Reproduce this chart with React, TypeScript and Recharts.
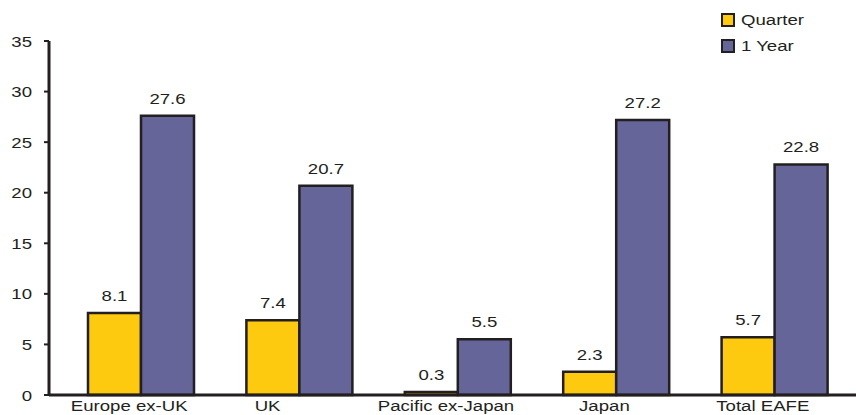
import { Bar, BarChart, LabelList, Legend, XAxis, YAxis } from "recharts";

// regional returns (%), quarter vs trailing year
const regions = ["Europe ex-UK", "UK", "Pacific ex-Japan", "Japan", "Total EAFE"];
const quarter = [8.1, 7.4, 0.3, 2.3, 5.7];
const oneYear = [27.6, 20.7, 5.5, 27.2, 22.8];
const yTicks = [0, 5, 10, 15, 20, 25, 30, 35];

const data = regions.map((region, i) => ({ region, quarter: quarter[i], oneYear: oneYear[i] }));
const seriesOrder = ["quarter", "oneYear"];

const INK = "#231f20";
const YELLOW = "#fdca10";
const PURPLE = "#65659a";
const FONT = "'Liberation Sans', Arial, sans-serif";
const SIZE = 15.5;
const STRETCH = 1.2; // source text is horizontally widened

function WideText({ x, y, anchor, children }: { x: number; y: number; anchor: string; children: any }) {
  return (
    <g transform={`translate(${x},${y}) scale(${STRETCH},1)`}>
      <text x={0} y={0} textAnchor={anchor as any} fontFamily={FONT} fontSize={SIZE} fill={INK}>
        {children}
      </text>
    </g>
  );
}

function YTick(props: any) {
  const { x, y, payload } = props;
  return <WideText x={x} y={y + 5.5} anchor="end">{payload.value}</WideText>;
}

function XTick(props: any) {
  const { x, y, payload } = props;
  // labels sit a little left of their bar pairs in the original
  const dx = payload.value === "UK" ? -32 : -12;
  return <WideText x={x + dx} y={y + 16} anchor="middle">{payload.value}</WideText>;
}

function ValueLabel(props: any) {
  const { x, y, width, value } = props;
  return <WideText x={Number(x) + Number(width) / 2} y={Number(y) - 12} anchor="middle">{Number(value).toFixed(1)}</WideText>;
}

function LegendBox({ payload }: any) {
  const items = [...(payload ?? [])].sort(
    (a: any, b: any) => seriesOrder.indexOf(a.dataKey) - seriesOrder.indexOf(b.dataKey),
  );
  return (
    <div style={{ fontFamily: FONT, fontSize: SIZE, color: INK }}>
      {items.map((p: any) => (
        <div key={p.value} style={{ display: "flex", alignItems: "center", height: 26 }}>
          <span
            style={{
              width: 14, height: 14, boxSizing: "border-box", background: p.color,
              border: `2px solid ${INK}`, marginRight: 6, flex: "none",
            }}
          />
          <span style={{ display: "inline-block", transform: `scaleX(${STRETCH})`, transformOrigin: "left center", whiteSpace: "nowrap" }}>
            {p.value}
          </span>
        </div>
      ))}
    </div>
  );
}

export default function App() {
  return (
    <div style={{ position: "absolute", left: 0, top: 0, width: 856, height: 415, background: "#fff" }}>
      <BarChart
        width={856} height={415} data={data}
        margin={{ top: 41, right: 0, bottom: 0, left: 1 }}
        barCategoryGap={26} barGap={0}
      >
        <XAxis
          dataKey="region" interval={0} height={20} padding={{ left: 13, right: 2 }}
          axisLine={{ stroke: INK, strokeWidth: 3 }} tickLine={false} tickSize={0} tickMargin={0}
          tick={<XTick />}
        />
        <YAxis
          domain={[0, 35]} ticks={yTicks} interval={0} width={48}
          axisLine={{ stroke: INK, strokeWidth: 3 }} tickLine={{ stroke: INK, strokeWidth: 2 }}
          tickSize={5} tickMargin={12} tick={<YTick />}
        />
        <Legend
          layout="vertical" align="center" verticalAlign="middle"
          wrapperStyle={{ top: 7, left: 721, width: 130 }}
          content={<LegendBox />}
        />
        <Bar dataKey="quarter" name="Quarter" fill={YELLOW} stroke={INK} strokeWidth={2.5} isAnimationActive={false}>
          <LabelList dataKey="quarter" content={<ValueLabel />} />
        </Bar>
        <Bar dataKey="oneYear" name="1 Year" fill={PURPLE} stroke={INK} strokeWidth={2.5} isAnimationActive={false}>
          <LabelList dataKey="oneYear" content={<ValueLabel />} />
        </Bar>
      </BarChart>
    </div>
  );
}
